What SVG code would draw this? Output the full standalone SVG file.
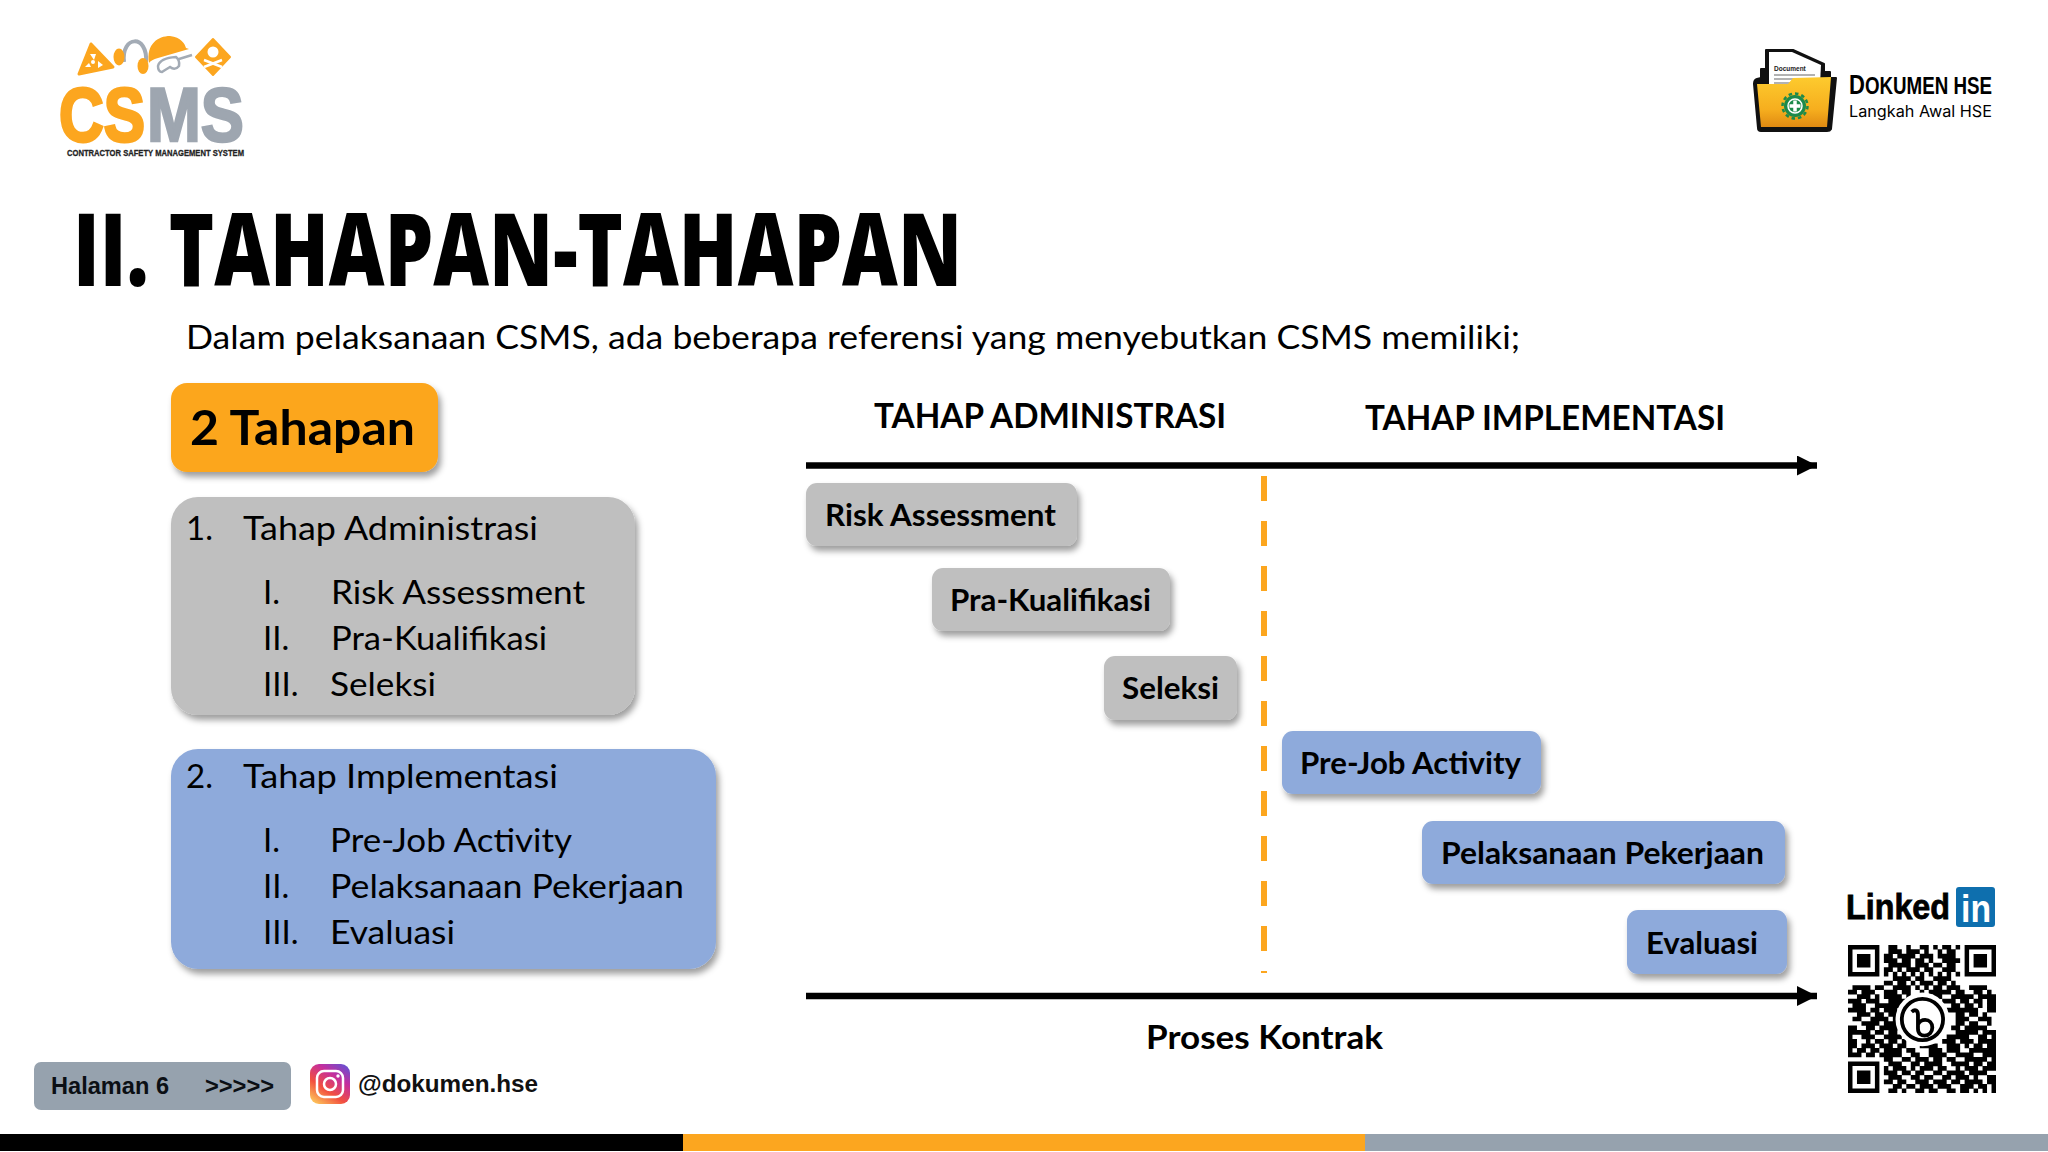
<svg xmlns="http://www.w3.org/2000/svg" width="2048" height="1152" viewBox="0 0 2048 1152">
<style>
text{font-family:"Lato","Liberation Sans",sans-serif;fill:#000}
.b{font-weight:700}
.h{font-size:33.5px;font-weight:700}
.n{font-size:30px;font-weight:700}
.l{font-size:33px}
.a{font-family:"Liberation Sans",Arial,sans-serif;font-weight:700}
.gray{fill:#bfbfbf}.blue{fill:#8eaadb}.or{fill:#fca61f}
.ln{stroke:#000;stroke-width:6.5;fill:none}
</style>
<defs>
<filter id="sh" x="-10%" y="-20%" width="125%" height="145%"><feDropShadow dx="3" dy="5" stdDeviation="3" flood-color="#000" flood-opacity=".38"/></filter>
<marker id="ah" markerUnits="userSpaceOnUse" markerWidth="20" markerHeight="20" refX="20" refY="10" orient="auto"><path d="M0 0L20 10L0 20z" fill="#000"/></marker>
<linearGradient id="fold" x1="0" y1="0" x2="0" y2="1"><stop offset="0" stop-color="#fdcb2e"/><stop offset=".65" stop-color="#f6ae1e"/><stop offset="1" stop-color="#e08a12"/></linearGradient>
<linearGradient id="ig" x1="0.15" y1="1" x2="0.85" y2="0"><stop offset="0" stop-color="#fdc45a"/><stop offset=".35" stop-color="#f2503f"/><stop offset=".7" stop-color="#c42e9e"/><stop offset="1" stop-color="#6a4fd0"/></linearGradient>
</defs>
<rect width="2048" height="1152" fill="#fff"/>

<g id="logo-csms">
<path d="M91 44L113 67L79 74z" fill="#fca61f" stroke="#fca61f" stroke-width="3" stroke-linejoin="round"/>
<circle cx="93" cy="62" r="2" fill="#fff"/><path d="M90 54l6 0 -2 6zM85 67l4-4 2 4zM98 61l5 4-5 3z" fill="#fff"/>
<path d="M124 62C121 35 148 34 146 62" fill="none" stroke="#a3abb5" stroke-width="4"/>
<ellipse cx="119" cy="57" rx="5.5" ry="8.5" fill="#fca61f"/><ellipse cx="143" cy="66" rx="5.5" ry="8" fill="#fca61f"/>
<path d="M149 63C146 44 158 36 170 36C181 37 185 44 186 48L189 49L158 58Q151 60 149 63z" fill="#fca61f"/>
<path d="M158 66Q160 58 176 57Q180 60 179 66Q175 71 170 67Q165 70 162 72Q158 72 158 66zM179 59L192 55" fill="none" stroke="#a3abb5" stroke-width="2.5"/>
<path d="M213 39L230 57L213 75L196 57z" fill="#fca61f" stroke="#fca61f" stroke-width="2" stroke-linejoin="round"/>
<circle cx="213" cy="52" r="5.5" fill="#fff"/><path d="M204 60L222 67M222 60L204 67" stroke="#fff" stroke-width="2.5"/>
<text class="a" x="59" y="141" font-size="76" stroke="#fca61f" stroke-width="3" textLength="86" lengthAdjust="spacingAndGlyphs" style="fill:#fca61f">CS</text>
<text class="a" x="147" y="141" font-size="76" stroke="#9ea6b0" stroke-width="2.5" textLength="97" lengthAdjust="spacingAndGlyphs" style="fill:#9ea6b0">MS</text>
<text class="a" x="67" y="156" font-size="9.5" stroke="#222" stroke-width=".3" textLength="177" lengthAdjust="spacingAndGlyphs" style="fill:#222">CONTRACTOR SAFETY MANAGEMENT SYSTEM</text>
</g>

<g id="logo-dokumen">
<path d="M1761 78V69H1766V50H1793L1824 64V72L1830 72V78L1836 78L1831 129Q1830 131 1827 131H1761Q1758 131 1758 128L1754 84Q1754 80 1757 79z" fill="#111" stroke="#111" stroke-width="2" stroke-linejoin="round"/>
<path d="M1769 52H1792L1821 65L1820 84H1769z" fill="#fff"/>
<text class="a" x="1774" y="71" font-size="6.5" style="fill:#222">Document</text>
<path d="M1774 75H1815M1774 79H1815M1774 83H1800" stroke="#999" stroke-width="1.5"/>
<path d="M1757 84L1788 84L1793 78L1831 77L1827 127H1761z" fill="url(#fold)"/>
<circle cx="1795" cy="106" r="11" fill="#1d8a4a"/>
<circle cx="1795" cy="106" r="12.5" fill="none" stroke="#1d8a4a" stroke-width="2.5" stroke-dasharray="3.5 3"/>
<circle cx="1795" cy="106" r="7" fill="none" stroke="#fff" stroke-width="1.5"/>
<path d="M1795 100.5V111.5M1789.5 106H1800.5" stroke="#fff" stroke-width="3.5"/>
<text class="a" x="1849" y="94" font-size="23" textLength="143" lengthAdjust="spacingAndGlyphs"><tspan font-size="27">D</tspan>OKUMEN HSE</text>
<text x="1849" y="117" font-size="16" textLength="143" lengthAdjust="spacingAndGlyphs" style="font-family:'Inter','Open Sans',sans-serif">Langkah Awal HSE</text>
</g>

<g id="title"><text x="73" y="286" font-size="101" textLength="889" lengthAdjust="spacingAndGlyphs" style="font-family:'Open Sans','Liberation Sans',sans-serif;font-weight:800">II. TAHAPAN-TAHAPAN</text></g>
<g id="subtitle"><text class="l" x="186" y="349" textLength="1334" lengthAdjust="spacingAndGlyphs">Dalam pelaksanaan CSMS, ada beberapa referensi yang menyebutkan CSMS memiliki;</text></g>

<g id="connectors">
<path class="ln" d="M806 465.5H1817" marker-end="url(#ah)"/>
<path class="ln" d="M806 996H1817" marker-end="url(#ah)"/>
<path d="M1264 476V973" stroke="#fca61f" stroke-width="6" stroke-dasharray="25 20" fill="none"/>
</g>

<g id="node-2tahapan"><rect class="or" x="171" y="383" width="267" height="89" rx="16" filter="url(#sh)"/>
<text class="b" x="190" y="445" font-size="47" textLength="225" lengthAdjust="spacingAndGlyphs">2 Tahapan</text></g>

<g id="node-admin"><rect class="gray" x="171" y="497" width="464" height="218" rx="27" filter="url(#sh)"/>
<text class="l" x="186" y="540">1.</text><text class="l" x="243" y="540" textLength="295" lengthAdjust="spacingAndGlyphs">Tahap Administrasi</text>
<text class="l" x="263" y="604">I.</text><text class="l" x="331" y="604" textLength="254" lengthAdjust="spacingAndGlyphs">Risk Assessment</text>
<text class="l" x="263" y="650">II.</text><text class="l" x="331" y="650" textLength="216" lengthAdjust="spacingAndGlyphs">Pra-Kualifikasi</text>
<text class="l" x="263" y="696">III.</text><text class="l" x="330" y="696" textLength="106" lengthAdjust="spacingAndGlyphs">Seleksi</text></g>

<g id="node-impl"><rect class="blue" x="171" y="749" width="545" height="220" rx="27" filter="url(#sh)"/>
<text class="l" x="186" y="788">2.</text>
<text class="l" x="243" y="788" textLength="315" lengthAdjust="spacingAndGlyphs">Tahap Implementasi</text>
<text class="l" x="263" y="852">I.</text><text class="l" x="330" y="852" textLength="242" lengthAdjust="spacingAndGlyphs">Pre-Job Activity</text>
<text class="l" x="263" y="898">II.</text><text class="l" x="330" y="898" textLength="354" lengthAdjust="spacingAndGlyphs">Pelaksanaan Pekerjaan</text>
<text class="l" x="263" y="944">III.</text><text class="l" x="330" y="944" textLength="125" lengthAdjust="spacingAndGlyphs">Evaluasi</text></g>

<g id="head-admin"><text class="h" x="874" y="428" textLength="352" lengthAdjust="spacingAndGlyphs">TAHAP ADMINISTRASI</text></g>
<g id="head-impl"><text class="h" x="1365" y="430" textLength="360" lengthAdjust="spacingAndGlyphs">TAHAP IMPLEMENTASI</text></g>

<g id="node-risk"><rect class="gray" x="806" y="483" width="271" height="63" rx="11" filter="url(#sh)"/><text class="n" x="825" y="526" textLength="231" lengthAdjust="spacingAndGlyphs">Risk Assessment</text></g>
<g id="node-pra"><rect class="gray" x="932" y="568" width="238" height="63" rx="11" filter="url(#sh)"/><text class="n" x="950" y="611" textLength="201" lengthAdjust="spacingAndGlyphs">Pra-Kualifikasi</text></g>
<g id="node-seleksi"><rect class="gray" x="1104" y="656" width="133" height="64" rx="11" filter="url(#sh)"/><text class="n" x="1122" y="699" textLength="97" lengthAdjust="spacingAndGlyphs">Seleksi</text></g>
<g id="node-prejob"><rect class="blue" x="1282" y="731" width="259" height="63" rx="11" filter="url(#sh)"/><text class="n" x="1300" y="774" textLength="221" lengthAdjust="spacingAndGlyphs">Pre-Job Activity</text></g>
<g id="node-pelaksanaan"><rect class="blue" x="1422" y="821" width="363" height="63" rx="11" filter="url(#sh)"/><text class="n" x="1441" y="864" textLength="323" lengthAdjust="spacingAndGlyphs">Pelaksanaan Pekerjaan</text></g>
<g id="node-evaluasi"><rect class="blue" x="1627" y="910" width="160" height="64" rx="11" filter="url(#sh)"/><text class="n" x="1646" y="954" textLength="112" lengthAdjust="spacingAndGlyphs">Evaluasi</text></g>

<g id="label-proses"><text class="b" x="1146" y="1049" font-size="32.5" textLength="237" lengthAdjust="spacingAndGlyphs">Proses Kontrak</text></g>

<g id="linkedin">
<text class="a" x="1846" y="919" font-size="35" stroke="#000" stroke-width=".8" textLength="104" lengthAdjust="spacingAndGlyphs">Linked</text>
<rect x="1956" y="887" width="39" height="40" rx="3" fill="#0e6fae"/>
<text class="a" x="1961" y="922" font-size="38" textLength="30" lengthAdjust="spacingAndGlyphs" style="fill:#fff">in</text>
</g>

<g id="qr" transform="translate(1848 945) scale(4.485)">
<path fill="#000" fill-rule="evenodd" d="M0 0h7v7h-7zM1 1v5h5v-5zM2 2h3v3h-3zM26 0h7v7h-7zM27 1v5h5v-5zM28 2h3v3h-3zM0 26h7v7h-7zM1 27v5h5v-5zM2 28h3v3h-3z"/>
<path fill="none" stroke="#000" stroke-width="1.05" d="M9 .5H11M13 .5H14M16 .5H18M19 .5H20M21 .5H23M24 .5H25M9 1.5H12M13 1.5H16M17 1.5H18M20 1.5H21M22 1.5H24M8 2.5H10M11 2.5H15M16 2.5H19M20 2.5H24M8 3.5H11M12 3.5H14M15 3.5H17M18 3.5H19M21 3.5H25M9 4.5H14M15 4.5H18M19 4.5H21M22 4.5H24M8 5.5H10M11 5.5H12M13 5.5H16M17 5.5H19M21 5.5H24M8 6.5H9M10 6.5H11M12 6.5H13M14 6.5H15M16 6.5H17M18 6.5H19M20 6.5H21M22 6.5H23M24 6.5H25M10 7.5H14M15 7.5H17M19 7.5H23M8 8.5H10M11 8.5H13M14 8.5H15M16 8.5H19M20 8.5H22M23 8.5H24M1 9.5H5M6 9.5H8M10 9.5H14M15 9.5H16M17 9.5H18M19 9.5H21M22 9.5H25M27 9.5H31M0 10.5H2M3 10.5H6M8 10.5H11M12 10.5H14M16 10.5H17M18 10.5H23M24 10.5H26M28 10.5H30M31 10.5H32M2 11.5H5M6 11.5H7M8 11.5H12M13 11.5H14M15 11.5H16M19 11.5H21M23 11.5H28M29 11.5H33M0 12.5H3M4 12.5H7M9 12.5H13M21 12.5H24M25 12.5H27M28 12.5H30M31 12.5H33M1 13.5H4M6 13.5H12M23 13.5H25M26 13.5H28M29 13.5H30M31 13.5H33M0 14.5H4M5 14.5H7M8 14.5H11M12 14.5H13M22 14.5H29M31 14.5H33M2 15.5H5M6 15.5H8M9 15.5H12M24 15.5H26M27 15.5H29M30 15.5H31M1 16.5H3M5 16.5H9M10 16.5H11M24 16.5H27M29 16.5H32M3 17.5H7M8 17.5H11M24 17.5H26M27 17.5H29M31 17.5H32M0 18.5H2M4 18.5H6M7 18.5H12M23 18.5H25M26 18.5H31M0 19.5H5M6 19.5H8M9 19.5H11M24 19.5H29M30 19.5H33M0 20.5H1M3 20.5H6M8 20.5H12M22 20.5H27M29 20.5H31M32 20.5H33M0 21.5H2M4 21.5H5M6 21.5H8M9 21.5H11M12 21.5H13M21 21.5H24M25 21.5H28M29 21.5H33M0 22.5H2M3 22.5H6M7 22.5H10M11 22.5H13M16 22.5H20M22 22.5H25M26 22.5H27M28 22.5H30M31 22.5H33M0 23.5H1M2 23.5H4M5 23.5H7M8 23.5H12M13 23.5H15M18 23.5H21M22 23.5H25M27 23.5H33M0 24.5H3M4 24.5H6M7 24.5H12M14 24.5H16M18 24.5H22M24 24.5H28M30 24.5H33M8 25.5H10M12 25.5H14M15 25.5H18M19 25.5H21M22 25.5H24M26 25.5H31M32 25.5H33M9 26.5H12M14 26.5H16M17 26.5H21M23 26.5H27M28 26.5H30M31 26.5H33M8 27.5H9M10 27.5H13M14 27.5H15M16 27.5H19M20 27.5H22M24 27.5H25M26 27.5H29M30 27.5H33M8 28.5H11M12 28.5H14M15 28.5H17M19 28.5H21M22 28.5H26M27 28.5H31M9 29.5H12M14 29.5H16M17 29.5H19M21 29.5H23M24 29.5H27M28 29.5H29M31 29.5H33M8 30.5H10M11 30.5H13M15 30.5H18M19 30.5H22M23 30.5H25M26 30.5H30M31 30.5H33M10 31.5H12M13 31.5H15M16 31.5H19M20 31.5H23M25 31.5H28M29 31.5H31M32 31.5H33M9 32.5H11M12 32.5H13M15 32.5H17M18 32.5H20M22 32.5H24M25 32.5H27M28 32.5H29M30 32.5H31M32 32.5H33"/>
<circle cx="16.6" cy="16.6" r="6" fill="#fff"/>
<circle cx="16.6" cy="16.6" r="4.6" fill="none" stroke="#000" stroke-width=".85"/>
<path d="M14.2 14.9C15 14.2 15.6 14.6 15.6 15.6V18.6C15.6 19.8 16.4 20.2 17.1 20.2C18.1 20.2 18.8 19.4 18.8 18.4C18.8 17.4 18.1 16.7 17.2 16.7C16.5 16.7 15.9 17.1 15.6 17.7" fill="none" stroke="#000" stroke-width=".85"/>
</g>

<g id="page-tag"><rect x="34" y="1062" width="257" height="48" rx="7" fill="#96a2ae"/>
<text class="a" x="51" y="1094" font-size="24" textLength="118" lengthAdjust="spacingAndGlyphs" style="fill:#0b0f14">Halaman 6</text>
<text class="a" x="205" y="1094" font-size="24" textLength="69" lengthAdjust="spacingAndGlyphs" style="fill:#0b0f14">&gt;&gt;&gt;&gt;&gt;</text></g>

<g id="instagram"><rect x="310" y="1064" width="40" height="40" rx="9" fill="url(#ig)"/>
<rect x="317" y="1071" width="26" height="26" rx="7" fill="none" stroke="#fff" stroke-width="2.5"/>
<circle cx="330" cy="1084" r="6" fill="none" stroke="#fff" stroke-width="2.5"/><circle cx="338" cy="1076" r="1.7" fill="#fff"/>
<text class="a" x="358" y="1092" font-size="24" textLength="180" lengthAdjust="spacingAndGlyphs" style="fill:#111">@dokumen.hse</text></g>

<g id="footer-bar"><rect x="0" y="1134" width="683" height="17" fill="#000"/><rect x="683" y="1134" width="682" height="17" fill="#fca61f"/><rect x="1365" y="1134" width="683" height="17" fill="#96a2ae"/></g>
</svg>
